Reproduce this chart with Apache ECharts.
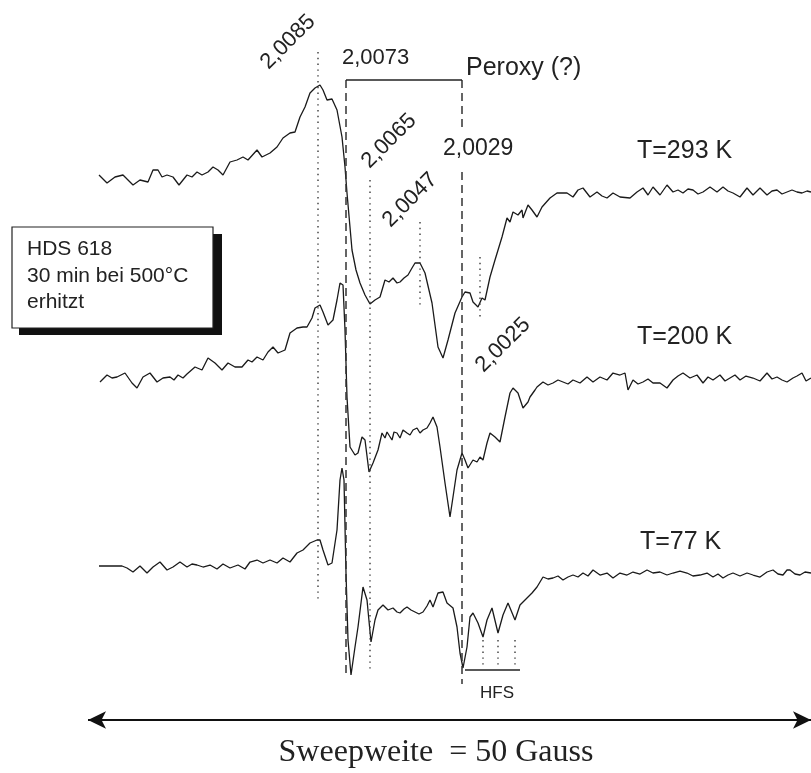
<!DOCTYPE html>
<html>
<head>
<meta charset="utf-8">
<script src="https://cdn.jsdelivr.net/npm/echarts@6/dist/echarts.min.js"></script>
<style>
  html, body { margin: 0; padding: 0; background: #fff; }
  #chart { width: 811px; height: 773px; }
</style>
</head>
<body>
<div id="chart"></div>
<script>
// EPR spectra of HDS 618 (heated 30 min at 500 °C) at three temperatures.
// Field position runs left to right across the plot; signal is drawn downwards-positive
// on a shared vertical scale so that the three spectra stack one below another.

const spectrum293K = [
  [99,175],[107,183],[115,177],[123,175],[133,185],[140,180],[148,182],[153,170],[158,170],[162,177],
  [167,175],[173,177],[179,185],[187,175],[192,177],[197,172],[202,175],[208,172],[213,167],[218,170],
  [223,175],[230,162],[237,160],[243,157],[248,160],[257,150],[262,157],[270,153],[277,147],[283,138],
  [290,133],[295,132],[300,117],[305,107],[310,93],[315,88],[320,85],[323,90],[327,100],[332,99],
  [337,110],[342,137],[345,167],[347,193],[352,250],[356,270],[360,283],[365,295],[370,304],[375,300],
  [380,297],[385,280],[389,282],[393,278],[397,283],[400,282],[404,278],[408,275],[412,268],[415,263],
  [420,263],[425,273],[432,303],[438,347],[443,358],[448,340],[455,313],[462,297],[465,292],[470,293],
  [473,302],[478,307],[482,298],[485,300],[490,277],[495,260],[502,237],[507,218],[510,222],[513,212],
  [518,215],[522,210],[523,218],[528,205],[532,210],[537,217],[542,207],[550,198],[557,193],[563,193],
  [567,193],[573,197],[578,190],[583,188],[590,197],[597,192],[602,196],[607,198],[613,193],[620,197],
  [630,198],[637,192],[643,188],[648,195],[653,187],[660,195],[667,185],[673,192],[678,190],[683,193],
  [688,189],[693,190],[698,194],[703,192],[710,187],[717,192],[723,187],[728,191],[733,193],[740,197],
  [747,188],[753,195],[760,188],[767,195],[772,191],[777,190],[782,194],[787,192],[792,190],[797,192],
  [802,193],[807,191],[811,192]
];

const spectrum200K = [
  [100,382],[107,375],[112,378],[117,377],[121,375],[125,373],[132,383],[137,388],[143,377],[150,373],
  [157,382],[163,378],[170,377],[174,380],[178,375],[183,378],[187,374],[195,367],[202,370],[208,358],
  [215,363],[222,370],[228,363],[235,367],[242,367],[248,360],[252,362],[257,357],[263,360],[268,352],
  [273,347],[278,353],[285,350],[290,333],[297,328],[303,327],[307,327],[312,318],[315,308],[320,305],
  [323,312],[328,325],[333,320],[337,300],[340,283],[343,285],[345,330],[347,397],[350,447],[355,455],
  [358,453],[362,437],[365,440],[369,472],[373,463],[378,450],[382,433],[385,438],[387,432],[392,440],
  [394,432],[397,433],[400,438],[403,430],[407,433],[410,435],[413,430],[417,428],[420,433],[423,430],
  [427,428],[430,423],[433,417],[437,427],[440,447],[445,483],[450,517],[453,497],[457,470],[462,453],
  [465,460],[468,468],[473,460],[477,462],[480,457],[483,460],[487,443],[490,433],[495,437],[500,442],
  [505,417],[510,393],[513,388],[518,393],[523,408],[528,402],[530,397],[535,390],[537,387],[543,382],
  [548,385],[553,383],[558,380],[563,382],[568,384],[573,380],[580,383],[587,377],[593,382],[600,377],
  [607,380],[613,373],[620,375],[625,373],[628,390],[633,380],[638,384],[643,382],[648,379],[653,383],
  [660,383],[667,388],[673,380],[678,376],[683,373],[690,378],[697,375],[703,383],[708,377],[713,380],
  [720,375],[725,381],[730,378],[735,375],[740,380],[746,376],[753,378],[760,381],[767,373],[772,379],
  [777,377],[782,380],[787,382],[793,378],[797,376],[802,373],[806,381],[811,378]
];

const spectrum77K = [
  [99,566],[122,566],[127,568],[133,572],[140,566],[147,573],[153,567],[160,562],[167,570],[173,567],
  [180,562],[187,567],[192,564],[197,565],[203,567],[210,565],[217,569],[223,564],[230,568],[238,565],
  [245,569],[250,562],[257,560],[263,563],[270,560],[277,563],[283,558],[290,562],[297,553],[303,550],
  [310,543],[317,540],[320,540],[323,550],[328,565],[332,563],[337,530],[340,480],[342,468],[344,480],
  [346,573],[348,640],[351,675],[355,647],[358,627],[363,587],[367,600],[371,642],[375,620],[378,610],
  [383,605],[388,610],[393,608],[397,612],[400,613],[404,609],[407,607],[411,610],[415,612],[419,614],
  [423,612],[427,606],[430,600],[433,607],[438,593],[443,592],[447,603],[453,608],[457,627],[460,653],
  [463,668],[467,647],[470,617],[473,613],[478,623],[483,637],[487,620],[492,608],[498,633],[503,615],
  [508,603],[515,620],[520,605],[524,601],[528,597],[532,593],[537,587],[543,577],[548,579],[553,578],
  [558,576],[563,580],[568,577],[573,575],[578,577],[583,573],[588,576],[593,570],[600,575],[607,573],
  [613,578],[620,573],[627,575],[633,572],[640,574],[647,570],[653,573],[660,572],[667,575],[673,573],
  [680,571],[687,573],[693,576],[700,575],[707,573],[713,577],[718,574],[723,578],[728,575],[733,573],
  [740,576],[747,573],[753,575],[760,577],[767,572],[773,570],[778,574],[783,575],[787,570],[790,570],
  [795,574],[800,575],[805,572],[811,573]
];

// g-factor markers: [field position, top, bottom]
const dottedMarkers = [
  [318, 52, 600],   // 2,0085
  [370, 180, 672],  // 2,0065
  [420, 222, 305],  // 2,0047
  [480, 257, 320],  // 2,0025
  [483, 640, 668],  // HFS components
  [498, 640, 668],
  [515, 640, 668]
];
// Peroxy bracket (2,0073 ... 2,0029)
const peroxyLeft = [[346, 80], [346, 676]];
const peroxyRight = [[462, 80], [462, 131], null, [462, 172], [462, 684]];
const peroxyBar = [[346, 80], [462, 80]];
const hfsBar = [[465, 670], [520, 670]];
const sweepArrow = [[88, 720], [811, 720]];

const traceStyle = { color: '#1a1a1a', width: 1.3 };

function dottedSeries(m) {
  return {
    type: 'line', silent: true, symbol: 'none',
    data: [[m[0], m[1]], [m[0], m[2]]],
    lineStyle: { color: '#3a3a3a', width: 1.4, type: [1.4, 4.4] }
  };
}

const series = [
  { type: 'line', name: 'T=293 K', data: spectrum293K, symbol: 'none', lineStyle: traceStyle },
  { type: 'line', name: 'T=200 K', data: spectrum200K, symbol: 'none', lineStyle: traceStyle },
  { type: 'line', name: 'T=77 K', data: spectrum77K, symbol: 'none', lineStyle: traceStyle },
  ...dottedMarkers.map(dottedSeries),
  { type: 'line', symbol: 'none', data: peroxyLeft, lineStyle: { color: '#333', width: 1.5, type: [8, 5] } },
  { type: 'line', symbol: 'none', data: peroxyRight, connectNulls: false, lineStyle: { color: '#333', width: 1.5, type: [8, 5] } },
  { type: 'line', symbol: 'none', data: peroxyBar, lineStyle: { color: '#222', width: 1.3 } },
  { type: 'line', symbol: 'none', data: hfsBar, lineStyle: { color: '#222', width: 1.3 } },
  {
    type: 'line', symbol: 'none', data: [],
    markLine: {
      silent: true, symbol: ['arrow', 'arrow'], symbolSize: [13, 18], label: { show: false },
      lineStyle: { color: '#111', width: 2, type: 'solid' },
      data: [[{ coord: sweepArrow[0] }, { coord: sweepArrow[1] }]]
    }
  }
];

const sans = 'Liberation Sans, Arial, sans-serif';

function label(text, x, y, size) {
  return {
    type: 'text', x: x, y: y,
    style: { text: text, font: size + 'px ' + sans, fill: '#222', align: 'left', verticalAlign: 'middle' }
  };
}
function slanted(text, x, y) {
  return {
    type: 'text', x: x, y: y, rotation: Math.PI / 4,
    style: { text: text, font: '22px ' + sans, fill: '#222', align: 'center', verticalAlign: 'middle' }
  };
}

const graphics = [
  slanted('2,0085', 288, 42),
  label('2,0073', 342, 58, 22),
  label('Peroxy (?)', 466, 68, 25),
  slanted('2,0065', 389, 141),
  label('2,0029', 443, 149, 23),
  slanted('2,0047', 410, 200),
  slanted('2,0025', 503, 345),
  label('T=293 K', 637, 151, 25),
  label('T=200 K', 637, 337, 25),
  label('T=77 K', 640, 542, 25),
  label('HFS', 480, 693, 17),
  // sample note with drop shadow
  { type: 'rect', shape: { x: 19, y: 234, width: 203, height: 101 }, style: { fill: '#111' } },
  { type: 'rect', shape: { x: 12, y: 227, width: 201, height: 101 }, style: { fill: '#fff', stroke: '#222', lineWidth: 1.2 } },
  label('HDS 618', 27, 249, 21),
  label('30 min bei 500°C', 27, 276, 21),
  label('erhitzt', 27, 302, 21),
  {
    type: 'text', x: 436, y: 753,
    style: { text: 'Sweepweite  = 50 Gauss', font: '32px Liberation Serif, Times New Roman, serif', fill: '#222', align: 'center', verticalAlign: 'middle' }
  }
];

const chart = echarts.init(document.getElementById('chart'), null, { renderer: 'canvas' });
chart.setOption({
  animation: false,
  backgroundColor: '#fff',
  grid: { left: 0, right: 0, top: 0, bottom: 0 },
  xAxis: { type: 'value', min: 0, max: 811, show: false },
  yAxis: { type: 'value', min: 0, max: 773, inverse: true, show: false },
  series: series,
  graphic: graphics
});
</script>
</body>
</html>
